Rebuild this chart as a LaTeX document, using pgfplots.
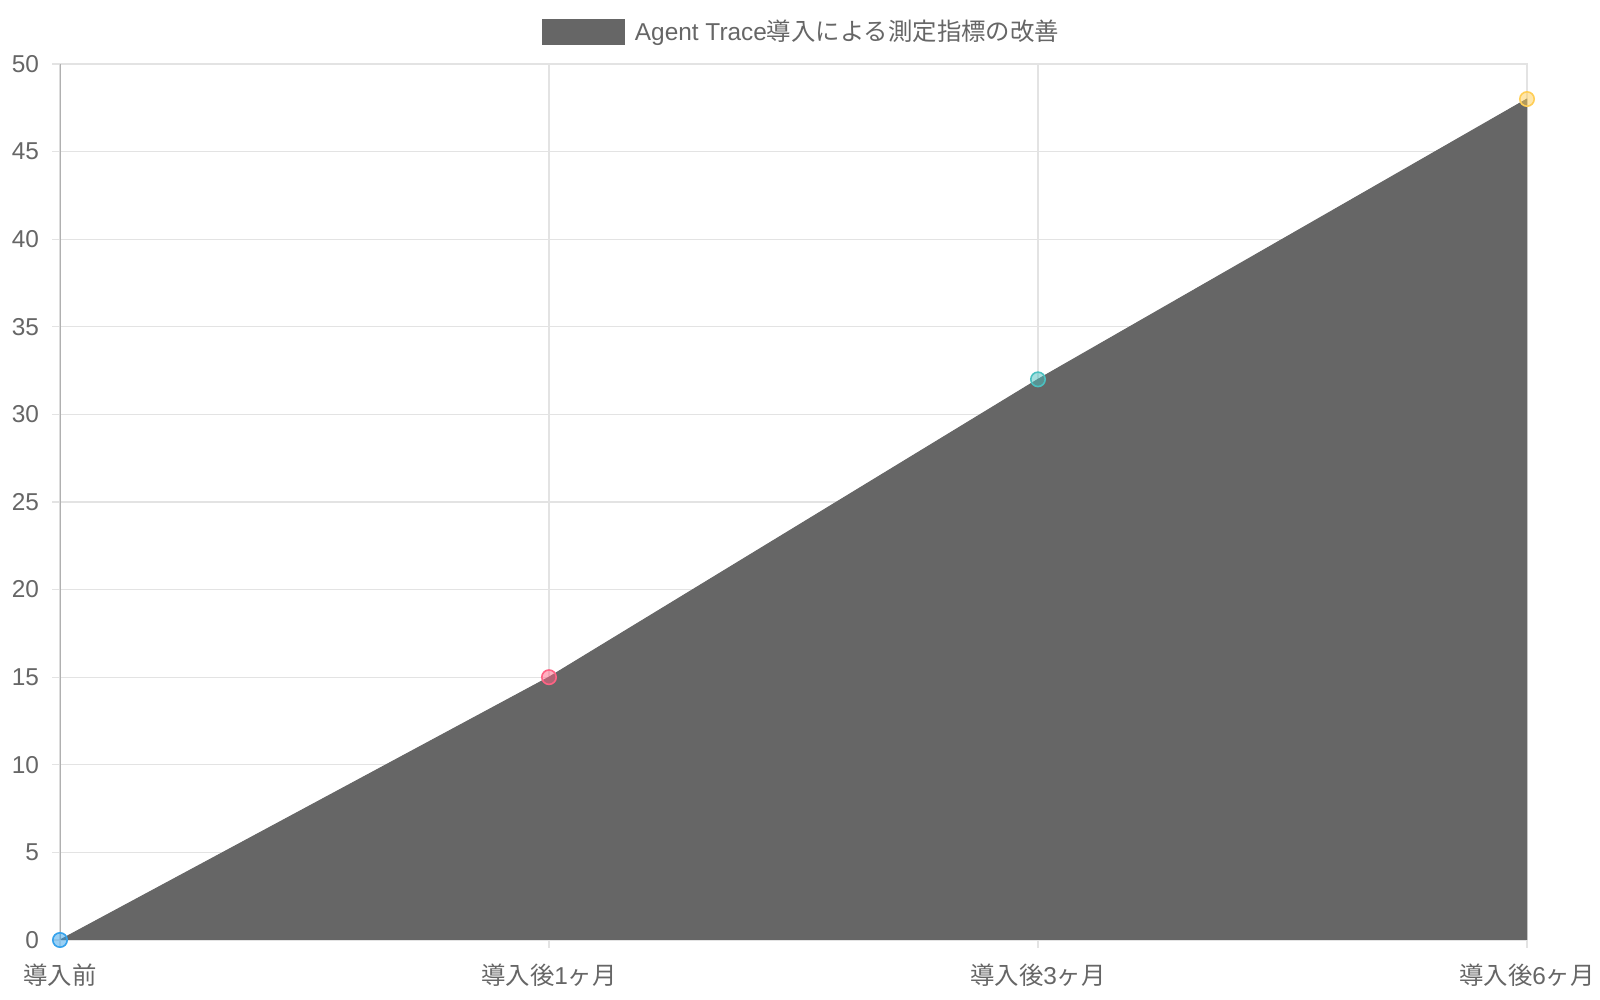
\documentclass[border=0pt]{standalone}
\usepackage{pgfplots}
\pgfplotsset{compat=1.18}
\usepackage{fontspec}
\setmainfont{Liberation Sans}
\newfontfamily\cjk{Noto Sans CJK JP}
\definecolor{txt}{HTML}{666666}
\definecolor{areac}{HTML}{666666}
\definecolor{gridc}{HTML}{E3E3E3}
\definecolor{axisc}{HTML}{B0B0B0}
\definecolor{pblue}{HTML}{36A2EB}
\definecolor{pred}{HTML}{FF6384}
\definecolor{pteal}{HTML}{4BC0C0}
\definecolor{pyellow}{HTML}{FFCE56}
\begin{document}
\begin{tikzpicture}
\useasboundingbox (-30pt,-30pt) rectangle (770pt,470pt);
\begin{axis}[
    at={(0pt,0pt)}, anchor=south west,
    scale only axis,
    width=733.5pt, height=438pt,
    xmin=0, xmax=3,
    ymin=0, ymax=50,
    xtick={0,1,2,3},
    xticklabels={{\cjk 導入前}, {\cjk 導入後}1{\cjk ヶ月}, {\cjk 導入後}3{\cjk ヶ月}, {\cjk 導入後}6{\cjk ヶ月}},
    ytick={0,5,...,50},
    grid=major,
    grid style={draw=gridc, line width=0.6pt},
    axis line style={draw=gridc, line width=0.6pt},
    tick pos=left,
    tick align=outside,
    major tick length=4pt,
    tick style={draw=gridc, line width=0.6pt},
    tick label style={font=\fontsize{12.2}{14}\selectfont, text=txt},
    yticklabel style={xshift=-3pt},
    xticklabel style={yshift=-4.5pt},
    /pgf/number format/assume math mode=true,
    legend style={at={(axis description cs:0.5,1)}, anchor=center,
        xshift=4.5pt, yshift=16pt,
        draw=none, fill=none, font=\fontsize{12.2}{14}\selectfont, text=txt,
        /tikz/every odd column/.append style={column sep=3pt}},
    legend image code/.code={\fill[areac] (0pt,-6.25pt) rectangle (41pt,6.25pt);},
]
    % filled area
    \addplot[fill=areac, draw=areac, line width=0.5pt]
        coordinates {(0,0) (1,15) (2,32) (3,48)} \closedcycle;
    \addlegendentry{Agent Trace{\cjk 導入による測定指標の改善}}

    % coloured points
    \addplot[forget plot, only marks, mark=*, mark size=3.6pt,
        mark options={draw=pblue, fill=pblue, fill opacity=0.5, line width=0.8pt}]
        coordinates {(0,0)};
    \addplot[forget plot, only marks, mark=*, mark size=3.6pt,
        mark options={draw=pred, fill=pred, fill opacity=0.5, line width=0.8pt}]
        coordinates {(1,15)};
    \addplot[forget plot, only marks, mark=*, mark size=3.6pt,
        mark options={draw=pteal, fill=pteal, fill opacity=0.5, line width=0.8pt}]
        coordinates {(2,32)};
    \addplot[forget plot, only marks, mark=*, mark size=3.6pt,
        mark options={draw=pyellow, fill=pyellow, fill opacity=0.5, line width=0.8pt}]
        coordinates {(3,48)};

    \draw[axisc, line width=0.6pt] (rel axis cs:0,0) -- (rel axis cs:0,1);
\end{axis}
\end{tikzpicture}
\end{document}
